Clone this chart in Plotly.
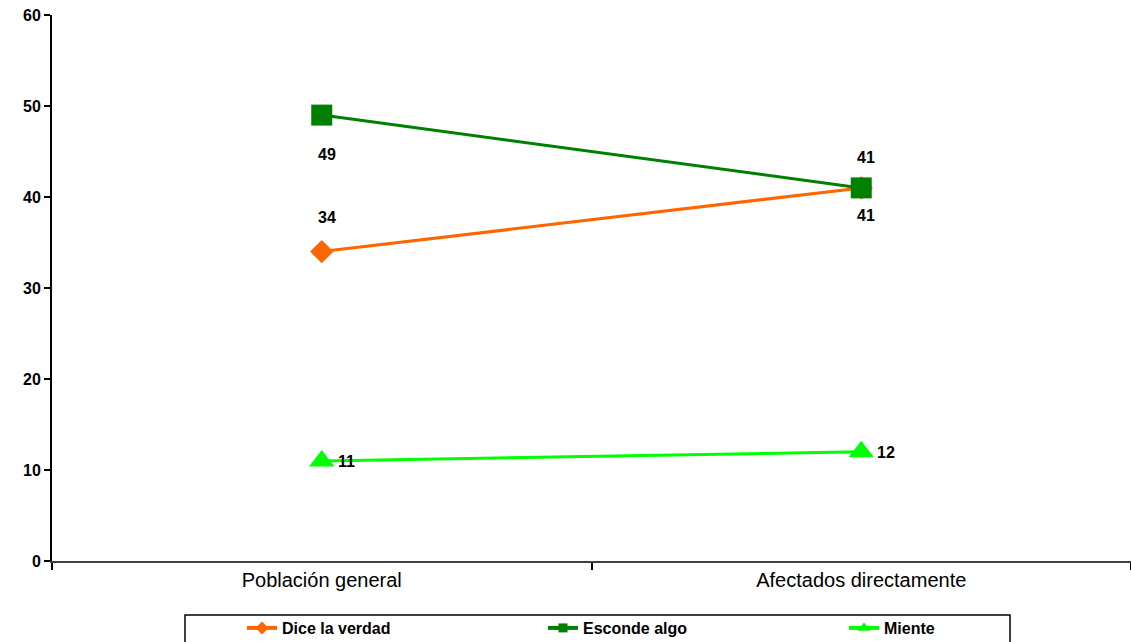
import plotly.graph_objects as go

categories = ["Población general", "Afectados directamente"]
dice_verdad = [34, 41]
esconde_algo = [49, 41]
miente = [11, 12]
y_ticks = [0, 10, 20, 30, 40, 50, 60]

FONT = "Arial, Liberation Sans, sans-serif"

series = [
    ("Dice la verdad", dice_verdad, "#FF6600", "diamond", 18),
    ("Esconde algo", esconde_algo, "#008000", "square", 21),
    ("Miente", miente, "#00FF00", "triangle-up", 22),
]
legend_marker_sizes = {"diamond": 10, "square": 9, "triangle-up": 11}

fig = go.Figure()
for name, vals, color, sym, size in series:
    fig.add_trace(go.Scatter(x=categories, y=vals, name=name, mode="lines+markers",
                             line=dict(color=color, width=3),
                             marker=dict(symbol=sym, size=size, color=color),
                             showlegend=False))
# legend-only entries with small symbols
for name, vals, color, sym, size in series:
    fig.add_trace(go.Scatter(x=[None], y=[None], name=name, mode="lines+markers",
                             line=dict(color=color, width=4),
                             marker=dict(symbol=sym, size=legend_marker_sizes[sym], color=color),
                             showlegend=True))

label_font = dict(family=FONT, size=16, color="black", weight="bold")
orange_shift = [34, 30]
green_shift = [-39, -28]
for c, v, s in zip(categories, dice_verdad, orange_shift):
    fig.add_annotation(x=c, y=v, text=str(v), showarrow=False, xshift=5, yshift=s, font=label_font)
for c, v, s in zip(categories, esconde_algo, green_shift):
    fig.add_annotation(x=c, y=v, text=str(v), showarrow=False, xshift=5, yshift=s, font=label_font)
for c, v in zip(categories, miente):
    fig.add_annotation(x=c, y=v, text=str(v), showarrow=False, xshift=25, yshift=-1, font=label_font)

# legend frame
fig.add_shape(type="rect", xref="paper", yref="paper",
              x0=(185 - 52) / 1079, x1=(1010 - 52) / 1079,
              y0=-(660 - 561) / 546, y1=-(615 - 561) / 546,
              line=dict(color="black", width=1.5), fillcolor="white", layer="below")

fig.update_layout(
    width=1131, height=642,
    margin=dict(l=52, r=0, t=15, b=81, autoexpand=False),
    paper_bgcolor="white", plot_bgcolor="white",
    font=dict(family=FONT, color="black"),
    showlegend=True,
    legend=dict(orientation="h", x=(242 - 52) / 1079, xanchor="left", y=-(611 - 561) / 546, yanchor="top",
                borderwidth=0, bgcolor="rgba(0,0,0,0)",
                font=dict(family=FONT, size=16, color="black", weight="bold"),
                entrywidth=256, entrywidthmode="pixels",
                tracegroupgap=0),
    xaxis=dict(type="category", range=[-0.5, 1.5], showline=True, linecolor="#404040", linewidth=2,
               ticks="outside", tickson="boundaries", ticklen=7, tickcolor="black", tickwidth=2,
               showgrid=False, zeroline=False,
               tickfont=dict(family=FONT, size=20, color="black")),
    yaxis=dict(range=[0, 60], tickvals=y_ticks, showline=True, linecolor="black", linewidth=2,
               ticks="outside", ticklen=6, tickcolor="black", tickwidth=2, showgrid=False, zeroline=False,
               tickfont=dict(family=FONT, size=16, color="black", weight="bold")),
)

fig.write_html("out.html", config={"displayModeBar": False},
               post_script="document.body.style.margin='0';document.body.style.overflow='hidden';")
